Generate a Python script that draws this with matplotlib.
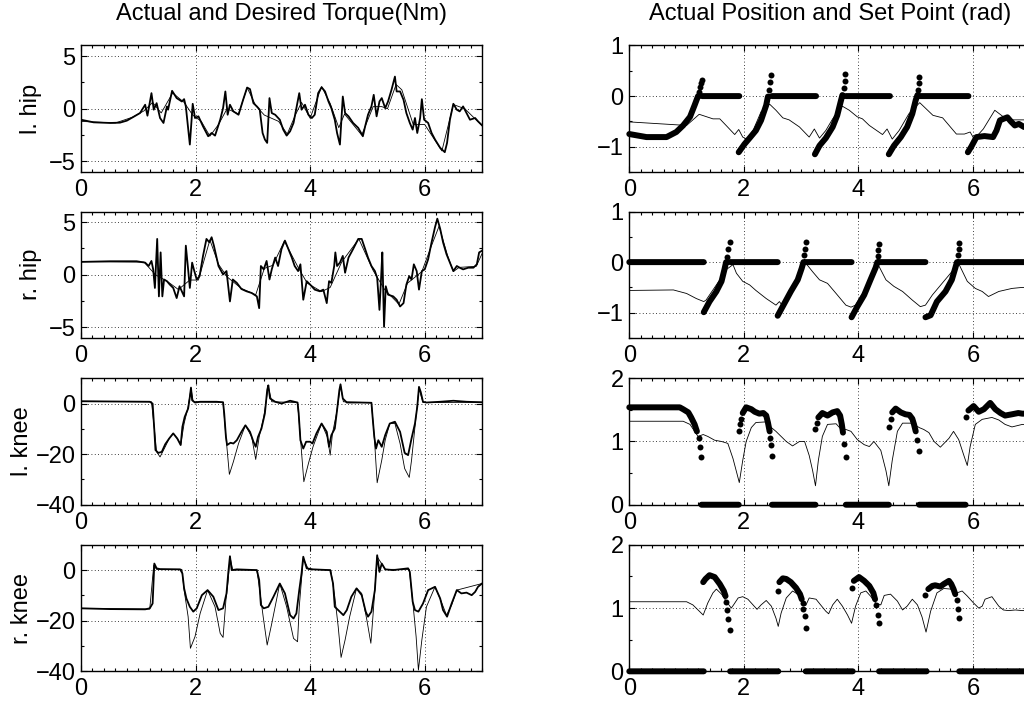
import numpy as np
import matplotlib
matplotlib.use('Agg')
import matplotlib.pyplot as plt
from matplotlib.ticker import MultipleLocator

nan = np.nan

# ---------------- left column : torques (Nm) ----------------
# l. hip
lhip_t = [0.00,0.22,0.51,0.68,0.80,0.91,1.03,1.12,1.16,1.23,1.27,1.32,1.38,1.44,1.50,1.52,1.59,1.67,1.76,1.80,
          1.83,1.90,1.95,1.99,2.05,2.13,2.22,2.28,2.34,2.43,2.48,2.52,2.56,2.60,2.66,2.75,2.83,2.90,2.95,3.01,
          3.07,3.12,3.17,3.21,3.25,3.29,3.33,3.39,3.47,3.53,3.59,3.65,3.71,3.76,3.81,3.85,3.91,3.97,4.03,4.08,
          4.14,4.20,4.26,4.32,4.37,4.43,4.47,4.52,4.57,4.61,4.67,4.75,4.84,4.92,4.96,5.01,5.07,5.11,5.16,5.21,
          5.25,5.31,5.36,5.42,5.48,5.51,5.57,5.63,5.68,5.74,5.79,5.83,5.87,5.92,5.95,5.99,6.06,6.12,6.18,6.27,
          6.35,6.39,6.44,6.50,6.56,6.61,6.67,6.73,6.79,6.88,6.93,7.00]
lhip_act = [-1.04,-1.29,-1.35,-1.32,-1.13,-0.79,-0.41,0.38,-0.66,1.48,-0.09,0.53,-0.88,-1.35,0.22,-0.09,1.70,1.01,0.69,0.91,
            0.22,-3.40,0.47,-0.88,-0.72,-1.67,-2.61,-2.30,-2.55,-1.04,0.06,1.64,-0.57,0.38,-0.25,-0.57,0.85,2.01,1.86,0.53,
            0.22,-0.09,-2.30,-2.92,-3.24,1.01,-0.41,-0.57,-1.04,-1.98,-2.55,-2.14,-1.35,0.06,1.48,-0.09,0.38,-0.57,-0.88,-0.57,
            1.48,2.04,1.64,0.69,0.06,-1.04,-2.30,-3.40,1.16,-0.41,-0.72,-1.35,-1.82,-2.61,-1.67,-0.57,0.22,1.32,-0.72,0.69,
            1.01,0.06,0.69,1.79,3.05,1.64,1.64,0.85,-0.41,-1.35,-1.98,-0.88,-2.30,-0.88,0.91,-1.04,-1.35,-2.30,-2.92,-3.71,
            -4.12,-3.24,-1.04,0.47,-0.09,-0.25,0.22,-0.41,-1.04,-0.88,-1.19,-1.57]
lhip_des_t = [0,0.6,0.9,1.1,1.25,1.4,1.6,1.8,1.95,2.1,2.25,2.4,2.55,2.75,2.9,3.05,3.2,3.45,3.6,3.75,
              3.85,4.0,4.2,4.35,4.5,4.6,4.9,5.1,5.25,5.35,5.5,5.6,5.8,6.0,6.3,6.5,6.7,7.0]
lhip_des = [-1.2,-1.35,-0.8,-0.2,0.6,-0.4,1.5,0.6,-0.6,-1.2,-2.6,-1.5,0.0,-0.5,2.0,0.3,-0.6,-1.2,-2.4,-0.5,
            0.6,-0.9,2.1,0.5,-1.8,-0.5,-2.5,0.2,0.2,0.0,2.3,1.8,-1.5,-1.5,-4.0,0.4,0.0,-1.6]

# r. hip
rhip_t = [0.00,0.51,0.97,1.12,1.18,1.23,1.26,1.29,1.33,1.36,1.39,1.42,1.45,1.50,1.55,1.61,1.67,1.72,1.76,1.80,
          1.83,1.87,1.90,1.94,1.97,2.02,2.07,2.13,2.19,2.24,2.28,2.32,2.40,2.48,2.54,2.60,2.65,2.72,2.80,2.89,
          2.98,3.07,3.11,3.14,3.19,3.24,3.29,3.33,3.39,3.44,3.50,3.56,3.62,3.68,3.73,3.79,3.83,3.88,3.94,4.00,
          4.08,4.17,4.23,4.29,4.33,4.37,4.42,4.44,4.47,4.52,4.57,4.61,4.67,4.75,4.84,4.90,4.96,5.01,5.07,5.13,
          5.17,5.21,5.24,5.26,5.29,5.32,5.36,5.45,5.51,5.57,5.63,5.68,5.73,5.77,5.81,5.86,5.90,5.95,6.00,6.06,
          6.12,6.18,6.22,6.27,6.32,6.38,6.44,6.50,6.56,6.61,6.67,6.76,6.85,6.91,6.95,7.00]
rhip_act = [1.22,1.28,1.28,1.15,0.83,1.31,0.51,-1.25,3.40,-2.05,2.12,-2.05,-0.45,-0.61,-0.93,-1.25,-2.21,-1.09,-1.57,-2.05,
            2.76,0.51,-1.25,1.15,0.51,-0.45,-0.13,1.79,3.40,3.08,3.56,2.76,0.83,0.03,0.35,-2.53,-0.45,-0.77,-1.35,-1.57,
            -1.73,-2.05,-3.17,0.83,0.51,1.31,-0.45,0.51,1.63,0.83,2.44,3.24,2.44,1.63,0.83,0.35,0.99,-2.37,-0.61,-0.93,
            -1.41,-1.57,-1.41,-2.69,-0.61,-0.77,0.83,2.12,0.83,1.15,1.79,0.19,1.63,2.44,3.40,3.40,2.44,1.63,0.83,0.35,
            -0.29,-3.33,-0.13,2.12,-4.94,-1.09,-1.89,-2.05,-2.37,-3.01,-2.69,-0.93,-0.13,-0.45,0.99,0.35,-1.41,0.35,0.51,1.47,
            3.08,4.52,5.32,4.36,3.08,1.96,1.15,0.35,0.83,0.67,0.51,0.67,0.67,0.99,2.12,2.28]
rhip_des_t = [0,1.1,1.3,1.5,1.7,1.9,2.05,2.25,2.4,2.55,2.8,3.05,3.2,3.35,3.55,3.8,3.95,4.2,4.35,4.55,
              4.85,5.1,5.3,5.55,5.7,5.95,6.1,6.25,6.4,6.5,6.6,6.9,7.0]
rhip_des = [1.25,1.2,0.0,-0.6,-1.4,-0.5,-0.5,3.3,1.0,-0.2,-1.3,-1.9,0.6,0.9,3.2,0.6,-0.8,-1.6,-1.2,1.2,
            3.4,0.4,-1.4,-2.8,-0.8,0.3,2.5,4.6,1.8,0.3,0.7,0.8,2.0]

# l. knee
lknee_t = [0.00,1.20,1.25,1.28,1.30,1.35,1.41,1.47,1.54,1.61,1.68,1.74,1.77,1.81,1.87,1.90,1.92,1.94,1.99,2.08,
           2.37,2.48,2.50,2.53,2.55,2.61,2.66,2.72,2.80,2.87,2.95,3.01,3.05,3.09,3.15,3.21,3.25,3.27,3.30,3.39,
           3.50,3.65,3.78,3.80,3.83,3.88,3.93,4.00,4.04,4.11,4.20,4.29,4.33,4.37,4.43,4.47,4.51,4.53,4.57,4.64,
           4.87,5.07,5.09,5.12,5.15,5.19,5.25,5.31,5.39,5.48,5.57,5.65,5.71,5.77,5.83,5.87,5.90,5.93,5.97,6.03,
           6.27,6.50,6.73,7.00]
lknee_act = [0.9,0.7,0.0,-10.5,-18.4,-19.5,-19.1,-16.1,-13.8,-11.8,-13.8,-16.4,-9.2,-5.3,-2.0,2.6,6.3,1.3,0.4,0.7,
             0.7,0.5,-3.9,-13.2,-16.4,-15.5,-15.8,-14.5,-11.2,-8.6,-11.2,-15.1,-17.1,-13.2,-9.9,-3.9,5.3,7.2,2.0,0.7,
             0.0,1.1,0.4,-3.9,-14.5,-17.8,-15.1,-15.1,-15.8,-11.8,-7.9,-11.2,-17.1,-12.5,-9.9,-2.6,5.3,7.6,2.0,0.4,
             0.4,0.3,-5.3,-13.2,-17.8,-14.5,-17.1,-12.5,-7.9,-7.2,-11.2,-19.5,-20.4,-13.8,-7.9,-1.3,6.6,4.6,0.7,0.4,
             0.7,1.1,0.7,0.5]
lknee_des_t = [0.00,1.23,1.28,1.32,1.38,1.47,1.54,1.61,1.70,1.74,1.80,1.87,1.92,1.96,2.48,2.52,2.59,2.66,2.75,2.87,
               2.98,3.05,3.11,3.19,3.27,3.33,3.78,3.82,3.89,3.97,4.05,4.20,4.30,4.35,4.39,4.46,4.53,4.58,5.07,5.12,
               5.17,5.25,5.31,5.39,5.48,5.57,5.65,5.73,5.77,5.83,5.90,5.97,7.00]
lknee_des = [0.9,0.7,-9.9,-19.1,-21.1,-17.1,-13.8,-11.8,-14.5,-16.4,-7.9,-1.3,5.9,0.7,0.5,-10.5,-28.0,-23.0,-15.8,-8.6,
             -13.2,-22.1,-13.2,-5.3,6.6,0.7,0.4,-10.5,-30.9,-23.7,-17.1,-7.9,-13.2,-20.4,-11.8,-3.9,7.2,0.7,0.3,-13.2,
             -31.3,-22.4,-14.5,-7.9,-7.9,-15.8,-25.7,-29.2,-22.4,-9.2,5.9,0.4,0.5]

# r. knee
rknee_t = [0.00,0.51,1.12,1.20,1.25,1.28,1.32,1.38,1.73,1.77,1.80,1.84,1.90,1.96,2.02,2.11,2.21,2.31,2.40,2.48,
           2.54,2.57,2.60,2.63,2.72,3.07,3.11,3.14,3.19,3.27,3.36,3.47,3.56,3.65,3.71,3.76,3.81,3.85,3.88,3.94,
           4.05,4.35,4.40,4.43,4.49,4.58,4.64,4.72,4.81,4.90,4.97,5.01,5.07,5.13,5.17,5.21,5.25,5.31,5.45,5.71,
           5.74,5.79,5.83,5.89,5.97,6.06,6.18,6.27,6.32,6.39,6.47,6.56,6.64,6.73,6.82,6.88,6.93,7.00]
rknee_act = [-15.1,-15.4,-15.5,-15.1,-13.2,2.6,0.7,0.4,0.3,-1.3,-7.2,-11.2,-14.5,-16.4,-15.1,-9.9,-7.9,-10.5,-15.8,-15.1,
             -9.2,-1.3,5.5,0.0,0.3,0.0,-3.9,-13.8,-15.1,-14.5,-10.5,-5.3,-9.2,-17.8,-19.1,-17.1,-7.9,-1.3,5.3,0.7,
             0.3,0.0,-5.3,-14.5,-15.8,-17.8,-15.8,-10.5,-7.2,-9.9,-16.4,-18.4,-16.4,-7.9,5.9,-0.7,2.6,0.3,0.0,0.7,
             -0.7,-12.5,-15.8,-16.4,-13.2,-7.9,-6.6,-11.2,-15.8,-18.4,-13.2,-7.9,-9.2,-8.9,-9.9,-8.6,-6.6,-5.3]
rknee_des_t = [0.00,1.20,1.27,1.32,1.76,1.80,1.87,1.91,1.99,2.08,2.21,2.34,2.43,2.48,2.53,2.57,2.60,2.65,3.07,3.12,
               3.18,3.25,3.33,3.47,3.59,3.71,3.78,3.81,3.88,3.97,4.36,4.43,4.49,4.54,4.61,4.69,4.81,4.90,4.99,5.06,
               5.10,5.17,5.31,5.73,5.80,5.85,5.89,5.95,6.03,6.18,6.29,6.38,6.47,6.56,7.00]
rknee_des = [-15.1,-15.4,2.0,0.3,0.3,-7.9,-18.4,-30.9,-26.3,-17.1,-7.9,-14.5,-25.0,-26.6,-11.8,-3.9,5.3,0.0,0.0,-7.9,
             -18.4,-29.6,-21.1,-5.3,-14.5,-27.0,-28.3,-14.5,4.6,0.3,0.0,-10.5,-22.4,-34.5,-27.6,-18.4,-7.2,-9.2,-19.7,-28.9,
             -17.1,5.3,0.3,0.3,-14.5,-26.3,-39.5,-27.6,-14.5,-6.6,-12.5,-17.8,-13.8,-7.9,-5.3]

# ---------------- right column : positions (rad) ----------------
# l. hip actual position
lhp_t = [0.00,1.00,1.22,1.46,1.58,1.69,1.84,1.91,1.98,2.05,2.16,2.30,2.45,2.56,2.68,2.79,2.97,3.14,3.23,3.32,
         3.43,3.55,3.72,3.84,3.98,4.07,4.19,4.42,4.50,4.59,4.71,4.88,5.07,5.30,5.47,5.71,5.85,5.95,6.02,6.18,
         6.38,6.53,6.70,6.89,7.00]
lhp_v = [-0.51,-0.58,-0.36,-0.45,-0.45,-0.58,-0.76,-0.66,-0.81,-0.85,-0.68,-0.31,-0.16,-0.28,-0.43,-0.47,-0.61,-0.81,-0.65,-0.83,
         -0.68,-0.45,-0.20,-0.28,-0.41,-0.45,-0.58,-0.76,-0.65,-0.85,-0.68,-0.35,-0.13,-0.38,-0.43,-0.75,-0.75,-0.71,-0.85,-0.65,
         -0.28,-0.41,-0.47,-0.47,-0.47]
# l. hip set point (dense runs, nan between runs) and the loose dots at the tips
lhs_t = [0.00,0.30,0.65,0.82,0.94,1.06,1.14,1.20,nan,1.27,1.92,nan,
         1.91,2.01,2.10,2.21,2.30,2.39,2.42,nan,2.49,3.26,nan,
         3.24,3.32,3.43,3.55,3.63,3.69,3.72,nan,3.78,4.55,nan,
         4.53,4.62,4.74,4.85,4.94,5.00,5.03,nan,5.07,5.92,nan,
         5.91,5.97,6.06,6.20,6.35,6.41,6.47,6.53,6.60,6.66,6.73,6.80,6.89,7.00]
lhs_v = [-0.75,-0.81,-0.81,-0.71,-0.58,-0.41,-0.18,0.00,nan,0.0,0.0,nan,
         -1.11,-0.95,-0.83,-0.68,-0.48,-0.18,-0.01,nan,0.0,0.0,nan,
         -1.15,-0.98,-0.83,-0.61,-0.38,-0.11,0.02,nan,0.0,0.0,nan,
         -1.15,-0.98,-0.81,-0.61,-0.35,-0.08,0.02,nan,0.0,0.0,nan,
         -1.11,-1.00,-0.81,-0.79,-0.81,-0.68,-0.48,-0.45,-0.42,-0.50,-0.58,-0.55,-0.61,-0.60]
lhs_tip_t = [1.21,1.23,1.25,1.27,2.44,2.46,2.48,3.74,3.76,3.77,5.04,5.05,5.06]
lhs_tip_v = [0.09,0.17,0.25,0.31,0.13,0.27,0.42,0.15,0.29,0.43,0.13,0.25,0.37]

# r. hip actual position
rhp_t = [0.00,0.77,1.00,1.17,1.30,1.34,1.46,1.58,1.69,1.81,1.87,1.98,2.10,2.21,2.39,2.56,2.62,2.68,2.79,2.94,
         3.08,3.20,3.32,3.46,3.61,3.78,3.87,3.95,4.07,4.21,4.33,4.48,4.62,4.77,4.94,5.08,5.17,5.29,5.46,5.63,
         5.75,5.90,6.04,6.16,6.27,6.45,6.68,6.86,7.0]
rhp_v = [-0.56,-0.55,-0.62,-0.72,-0.78,-0.75,-0.55,-0.35,-0.15,-0.05,-0.22,-0.38,-0.45,-0.56,-0.72,-0.85,-0.78,-0.87,-0.58,-0.28,
         -0.02,-0.19,-0.35,-0.42,-0.62,-0.85,-0.89,-0.85,-0.62,-0.35,-0.02,-0.35,-0.48,-0.58,-0.75,-0.88,-0.85,-0.65,-0.42,-0.19,
         -0.03,-0.38,-0.52,-0.58,-0.68,-0.58,-0.52,-0.50,-0.50]
rhs_t = [0.00,1.30,nan,1.30,1.40,1.52,1.61,1.66,1.69,nan,1.76,2.59,nan,
         2.59,2.71,2.82,2.94,3.01,3.04,nan,3.08,3.88,nan,
         3.88,3.98,4.10,4.21,4.30,4.33,nan,4.36,5.17,nan,
         5.17,5.26,5.37,5.52,5.63,5.69,5.72,nan,5.76,7.00]
rhs_v = [0.0,0.0,nan,-0.99,-0.78,-0.58,-0.38,-0.15,0.0,nan,0.0,0.0,nan,
         -1.06,-0.81,-0.58,-0.35,-0.12,0.0,nan,0.0,0.0,nan,
         -1.09,-0.88,-0.65,-0.35,-0.11,0.0,nan,0.0,0.0,nan,
         -1.09,-1.05,-0.78,-0.58,-0.35,-0.12,0.0,nan,0.0,0.0]
rhs_tip_t = [1.71,1.73,1.75,3.05,3.07,3.08,4.34,4.35,4.36,5.73,5.75,5.76]
rhs_tip_v = [0.11,0.25,0.39,0.15,0.26,0.40,0.13,0.24,0.36,0.15,0.26,0.38]

# l. knee actual position
lkp_t = [0.00,0.94,1.06,1.14,1.20,1.29,1.37,1.49,1.61,1.72,1.81,1.88,1.92,1.98,2.04,2.13,2.21,2.39,2.48,2.56,
         2.65,2.74,2.85,2.97,3.06,3.14,3.20,3.25,3.30,3.37,3.46,3.61,3.69,3.78,3.87,3.98,4.10,4.19,4.27,4.39,
         4.48,4.53,4.59,4.68,4.77,4.94,5.06,5.14,5.23,5.32,5.43,5.58,5.66,5.75,5.84,5.90,5.95,6.04,6.16,6.33,
         6.45,6.56,6.68,6.86,7.0]
lkp_v = [1.32,1.32,1.27,1.16,1.08,1.11,1.08,1.02,1.00,0.97,0.73,0.49,0.35,0.70,1.00,1.22,1.30,1.31,1.22,1.16,
         1.08,1.00,0.93,1.00,1.00,0.78,0.54,0.30,0.70,1.08,1.27,1.28,1.20,1.19,1.16,1.03,0.95,0.92,1.00,0.86,
         0.54,0.30,0.70,1.16,1.29,1.29,1.22,1.19,1.14,1.00,0.91,1.05,1.16,1.03,0.78,0.62,0.92,1.27,1.35,1.38,
         1.34,1.27,1.23,1.27,1.27]
lks_t = [0.00,0.88,0.94,1.03,1.08,1.14,1.18,nan,1.26,1.91,nan,
         1.98,2.04,2.13,2.19,2.27,2.34,2.39,2.42,2.45,nan,2.49,3.25,nan,
         3.30,3.37,3.46,3.55,3.63,3.68,3.71,3.73,nan,3.78,4.53,nan,
         4.59,4.65,4.74,4.82,4.89,4.94,4.97,5.00,nan,5.06,5.87,nan,
         5.92,6.01,6.10,6.19,6.30,6.39,6.48,6.56,6.68,6.79,6.86,7.00]
lks_v = [1.54,1.54,1.51,1.46,1.38,1.27,1.16,nan,0.0,0.0,nan,
         1.45,1.54,1.51,1.47,1.44,1.45,1.41,1.30,1.16,nan,0.0,0.0,nan,
         1.38,1.45,1.41,1.46,1.48,1.41,1.27,1.14,nan,0.0,0.0,nan,
         1.46,1.52,1.46,1.43,1.42,1.36,1.27,1.16,nan,0.0,0.0,nan,
         1.49,1.56,1.47,1.51,1.61,1.51,1.45,1.41,1.43,1.45,1.44,1.44]
lks_tip_t = [1.21,1.23,1.25,1.91,1.94,1.95,2.46,2.47,2.49,3.25,3.27,3.75,3.78,4.53,4.56,5.03,5.06,5.87]
lks_tip_v = [1.05,0.92,0.76,1.16,1.27,1.35,1.05,0.95,0.77,1.19,1.30,0.96,0.75,1.23,1.35,1.03,0.85,1.38]

# r. knee actual position
rkp_t = [0.00,1.00,1.11,1.20,1.29,1.37,1.46,1.52,1.61,1.69,1.78,1.82,1.90,1.98,2.07,2.16,2.23,2.30,2.39,2.48,
         2.56,2.60,2.65,2.74,2.85,2.94,3.03,3.08,3.14,3.26,3.34,3.43,3.48,3.55,3.63,3.72,3.81,3.88,3.95,4.04,
         4.13,4.21,4.30,4.39,4.45,4.56,4.68,4.77,4.85,4.94,5.03,5.11,5.18,5.26,5.37,5.49,5.61,5.72,5.81,5.90,
         6.01,6.10,6.16,6.21,6.33,6.45,6.53,6.62,6.74,6.86,7.0]
rkp_v = [1.10,1.10,1.05,0.97,0.89,1.08,1.24,1.30,1.22,1.11,1.00,1.05,1.16,1.18,1.14,1.05,0.98,1.05,1.12,1.03,
         0.84,0.71,0.92,1.16,1.27,1.22,1.11,1.04,1.16,1.14,1.05,0.95,0.91,1.05,1.14,1.03,0.89,0.76,1.03,1.24,
         1.27,1.19,1.08,1.05,1.20,1.22,1.11,0.97,1.03,1.14,1.05,0.86,0.62,0.95,1.24,1.31,1.30,1.24,1.27,1.19,
         1.08,1.00,1.03,1.14,1.18,1.03,0.97,0.96,0.97,0.96,0.96]
rks_t = [0.00,1.30,nan,1.29,1.33,1.40,1.49,1.58,1.65,1.68,nan,1.76,2.60,nan,
         2.62,2.68,2.74,2.82,2.91,2.98,3.01,nan,3.08,3.90,nan,
         3.92,4.01,4.10,4.19,4.26,4.29,nan,4.36,5.19,nan,
         5.22,5.29,5.34,5.43,5.49,5.58,5.62,5.66,5.69,nan,5.76,7.00]
rks_v = [0.0,0.0,nan,1.41,1.46,1.52,1.49,1.38,1.27,1.19,nan,0.0,0.0,nan,
         1.41,1.47,1.46,1.41,1.32,1.22,1.14,nan,0.0,0.0,nan,
         1.43,1.49,1.43,1.35,1.24,1.14,nan,0.0,0.0,nan,
         1.30,1.35,1.36,1.34,1.38,1.43,1.38,1.30,1.22,nan,0.0,0.0]
rks_tip_t = [1.69,1.70,1.73,1.76,2.59,3.03,3.04,3.06,3.08,3.88,4.31,4.34,4.36,5.17,5.72,5.73,5.76]
rks_tip_v = [1.09,0.97,0.83,0.65,1.27,1.08,0.99,0.88,0.69,1.32,1.05,0.89,0.76,1.20,1.12,0.99,0.84]

row_names = ['l. hip', 'r. hip', 'l. knee', 'r. knee']

plt.rcParams['font.family'] = ['Liberation Sans', 'DejaVu Sans']
plt.rcParams['font.size'] = 17

fig = plt.figure(figsize=(10.24, 7.02), dpi=100)

# axes boxes measured in pixels of the 1024x702 target
bottoms = [0.7550, 0.5185, 0.2810, 0.0437]
h = 0.1802
lx, rx, w = 81/1024, 629.3/1024, 401/1024
# the knee labels sit further left, past the wider tick labels
label_x = [30.5, 30.5, 22, 22]


def matlab_axes(ax, ylim, yticks, ymin):
    ax.set_xlim(0, 7)
    ax.set_ylim(*ylim)
    ax.set_xticks([0, 2, 4, 6])
    ax.set_yticks(yticks)
    ax.xaxis.set_minor_locator(MultipleLocator(0.2))
    ax.yaxis.set_minor_locator(MultipleLocator(ymin))
    ax.tick_params(which='both', direction='in', top=True, right=True, width=0.8, labelsize=17)
    ax.tick_params(which='major', length=4)
    ax.tick_params(which='minor', length=2)
    ax.tick_params(axis='x', pad=5)
    ax.tick_params(axis='y', pad=4)
    ax.grid(True, which='major', linestyle=(0, (1, 3)), color='k', linewidth=0.6)
    for s in ax.spines.values():
        s.set_linewidth(1.0)


torque = [(lhip_t, lhip_act, lhip_des_t, lhip_des),
          (rhip_t, rhip_act, rhip_des_t, rhip_des),
          (lknee_t, lknee_act, lknee_des_t, lknee_des),
          (rknee_t, rknee_act, rknee_des_t, rknee_des)]
position = [(lhp_t, lhp_v, lhs_t, lhs_v, lhs_tip_t, lhs_tip_v),
            (rhp_t, rhp_v, rhs_t, rhs_v, rhs_tip_t, rhs_tip_v),
            (lkp_t, lkp_v, lks_t, lks_v, lks_tip_t, lks_tip_v),
            (rkp_t, rkp_v, rks_t, rks_v, rks_tip_t, rks_tip_v)]

for i in range(4):
    # torque, left
    ax = fig.add_axes([lx, bottoms[i], w, h])
    t, a, td, d = torque[i]
    ax.plot(td, d, color='k', linewidth=0.6)
    ax.plot(t, a, color='k', linewidth=1.3)
    if i < 2:
        matlab_axes(ax, (-6, 6), [-5, 0, 5], 2.5)
    else:
        matlab_axes(ax, (-40, 10), [-40, -20, 0], 10)
    fig.text(label_x[i]/1024, bottoms[i] + h/2, row_names[i], rotation=90,
             ha='center', va='center', fontsize=17)

    # position and set point, right
    ax = fig.add_axes([rx, bottoms[i], w, h])
    pt, pv, st, sv, tt, tv = position[i]
    ax.plot(pt, pv, color='k', linewidth=0.6)
    ax.plot(st, sv, color='k', linewidth=4.3, solid_capstyle='round', clip_on=False)
    ax.plot(tt, tv, 'o', color='k', markersize=4.3, markeredgewidth=0, clip_on=False)
    if i < 2:
        matlab_axes(ax, (-1.5, 1), [-1, 0, 1], 0.5)
    else:
        matlab_axes(ax, (0, 2), [0, 1, 2], 0.5)

fig.text((lx + w/2), 1 - 14/702, 'Actual and Desired Torque(Nm)', ha='center', va='center', fontsize=17)
fig.text((rx + w/2), 1 - 14/702, 'Actual Position and Set Point (rad)', ha='center', va='center', fontsize=17)

fig.savefig('out.png', dpi=100)
